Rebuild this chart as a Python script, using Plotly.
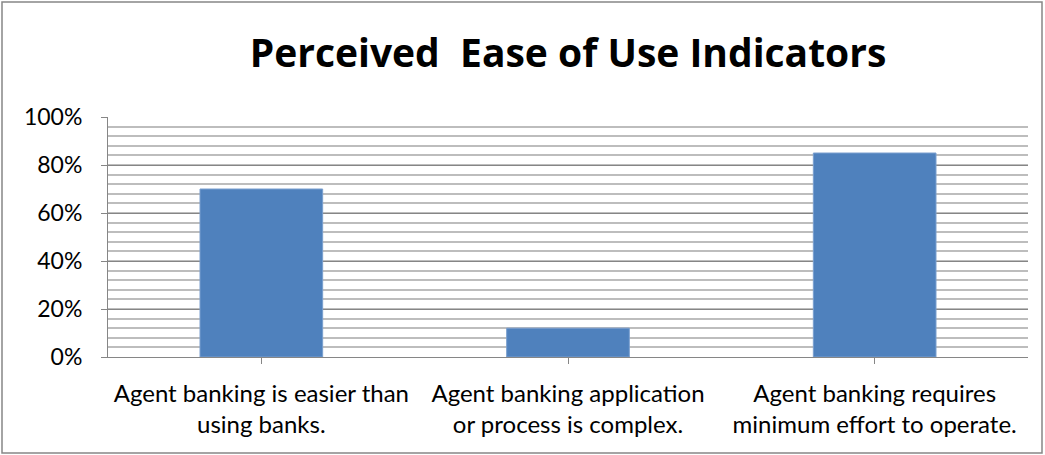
import plotly.graph_objects as go

categories = [
    "Agent banking is easier than<br>using banks.",
    "Agent banking application<br>or process is complex.",
    "Agent banking requires<br>minimum effort to operate.",
]
values = [0.70, 0.12, 0.85]
y_ticks = [0, 0.2, 0.4, 0.6, 0.8, 1.0]
y_tick_labels = ["0%", "20%", "40%", "60%", "80%", "100%"]
title_text = "Perceived&nbsp; Ease of Use Indicators"

W, H = 1045, 455
L, R, T, B = 108, 17, 117, 98
FONT = "Lato, 'Open Sans', sans-serif"
TITLE_FONT = "'Open Sans', Lato, sans-serif"

fig = go.Figure(
    go.Bar(
        x=[0, 1, 2],
        y=values,
        width=0.4,
        marker=dict(color="#4F81BD", line=dict(color="#7a9fcf", width=1)),
        hoverinfo="skip",
    )
)

fig.update_layout(
    width=W,
    height=H,
    margin=dict(l=L, r=R, t=T, b=B),
    paper_bgcolor="white",
    plot_bgcolor="white",
    showlegend=False,
    font=dict(family=FONT, size=23, color="black"),
    title=dict(
        text=title_text,
        x=0.5,
        xref="paper",
        xanchor="center",
        y=(H - 53) / H,
        yanchor="middle",
        font=dict(family=TITLE_FONT, size=39, color="black", weight="bold"),
    ),
    bargap=0.6,
)

fig.update_xaxes(
    range=[-0.5, 2.5],
    tickmode="array",
    tickvals=[0, 1, 2],
    ticktext=categories,
    ticks="outside",
    tickson="boundaries",
    ticklen=6,
    tickcolor="#868686",
    showline=True,
    linecolor="#868686",
    linewidth=1,
    showgrid=False,
    tickfont=dict(size=24),
    ticklabelstandoff=9,
    fixedrange=True,
)

fig.update_yaxes(
    range=[0, 1.0],
    tickmode="array",
    tickvals=y_ticks,
    ticktext=y_tick_labels,
    ticks="outside",
    ticklen=6,
    tickcolor="#868686",
    showline=True,
    linecolor="#868686",
    linewidth=1,
    showgrid=True,
    gridcolor="#868686",
    gridwidth=1,
    minor=dict(dtick=0.04, showgrid=True, gridcolor="#bdbdbd", gridwidth=1.5, ticks=""),
    zeroline=False,
    tickfont=dict(size=23),
    ticklabelstandoff=14,
    fixedrange=True,
)

# outer chart border
fig.add_shape(
    type="rect",
    xref="paper",
    yref="paper",
    x0=(2 - L) / (W - L - R),
    x1=(W - 3 - L) / (W - L - R),
    y0=-(B - 2) / (H - T - B),
    y1=1 + (T - 2) / (H - T - B),
    line=dict(color="#868686", width=1.5),
    fillcolor="rgba(0,0,0,0)",
    layer="below",
)

fig.write_html("out.html")
